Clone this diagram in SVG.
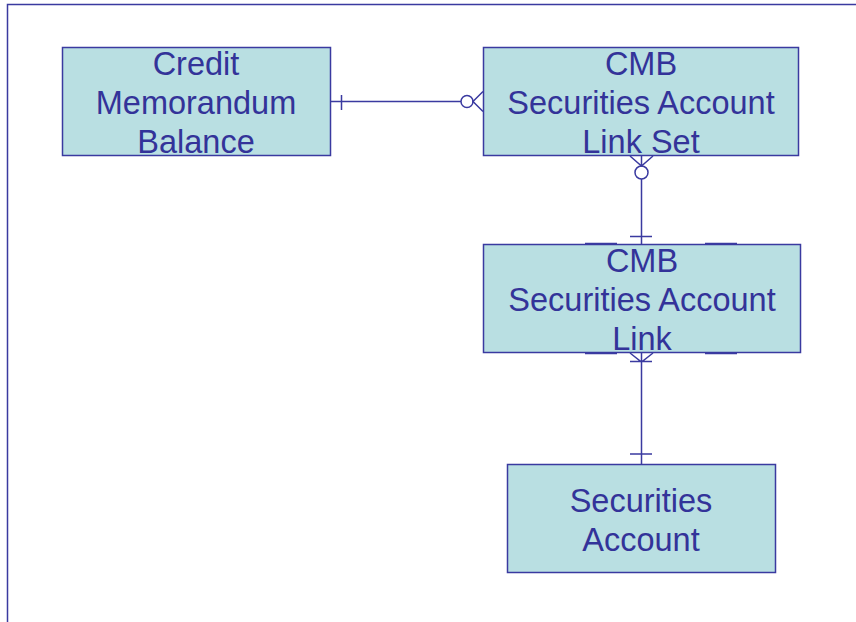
<svg xmlns="http://www.w3.org/2000/svg" width="856" height="622" viewBox="0 0 856 622">
<style>
.box{fill:#b9dfe2;stroke:#3a3aa0;stroke-width:1.5}
.lbl{font-family:"Liberation Sans",Arial,sans-serif;font-size:32.5px;fill:#333399;text-anchor:middle}
.ln{fill:none;stroke:#3a3aa0;stroke-width:1.5}
</style>
<rect width="856" height="622" fill="#ffffff"/>
<path class="ln" d="M7.5,622 V4.5 H856"/>
<g id="credit-memorandum-balance">
<rect class="box" x="62.5" y="47.5" width="268" height="108"/>
<text class="lbl" x="196" y="75">Credit</text>
<text class="lbl" x="196" y="114">Memorandum</text>
<text class="lbl" x="196" y="153">Balance</text>
</g>
<g id="cmb-link-set">
<rect class="box" x="483.5" y="47.5" width="315" height="108"/>
<text class="lbl" x="641" y="75">CMB</text>
<text class="lbl" x="641" y="114">Securities Account</text>
<text class="lbl" x="641" y="153">Link Set</text>
</g>
<g id="cmb-link">
<rect class="box" x="483.5" y="244.5" width="317" height="108"/>
<text class="lbl" x="642" y="272">CMB</text>
<text class="lbl" x="642" y="311">Securities Account</text>
<text class="lbl" x="642" y="350">Link</text>
<path class="ln" d="M585,243.5 H617 M705,243.5 H737 M585,353.5 H617 M705,353.5 H737"/>
</g>
<g id="securities-account">
<rect class="box" x="507.5" y="464.5" width="268" height="108"/>
<text class="lbl" x="641" y="512">Securities</text>
<text class="lbl" x="641" y="551">Account</text>
</g>
<g id="connectors">
<path class="ln" d="M330,101.5 H461 M341.5,95 V110 M483,91.5 L473,101.5 L483,111.5"/>
<circle class="ln" cx="467" cy="101.5" r="6"/>
<path class="ln" d="M641.5,156 V166 M641.5,179 V244 M630,156 L641.5,166 L653,156 M630,236.5 H652"/>
<circle class="ln" cx="641.5" cy="172.5" r="6.5"/>
<path class="ln" d="M641.5,353 V464 M630,353 L641.5,362 L653,353 M630,361.5 H652 M630,454 H652"/>
</g>
</svg>
